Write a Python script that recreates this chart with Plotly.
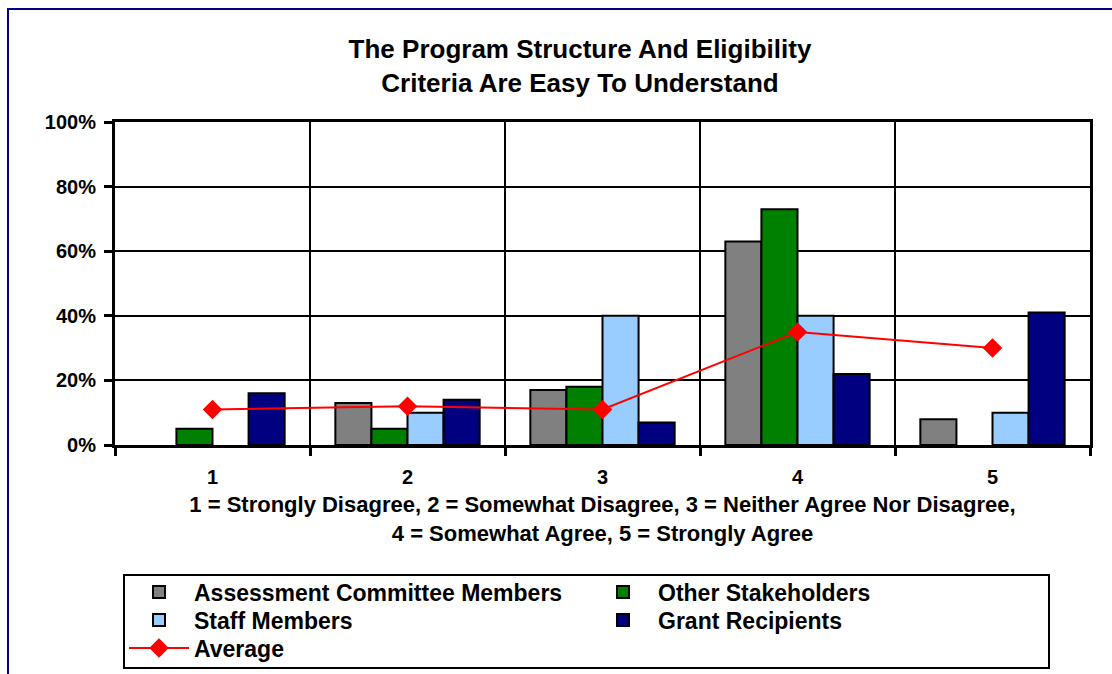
import plotly.graph_objects as go

# Likert scale responses (1-5) and share of respondents per group, in percent
scale_points = [1, 2, 3, 4, 5]
tick_labels = ["1", "2", "3", "4", "5"]
y_ticks = [0, 20, 40, 60, 80, 100]
assessment_committee = [0, 13, 17, 63, 8]
other_stakeholders = [5, 5, 18, 73, 0]
staff_members = [0, 10, 40, 40, 10]
grant_recipients = [16, 14, 7, 22, 41]
average = [11, 12, 11, 35, 30]

FONT = "Liberation Sans, Arial, sans-serif"
W, H = 1112, 674
M_L, M_R, M_T, M_B = 115, 22, 122, 229
PW, PH = W - M_L - M_R, H - M_T - M_B


def px_x(x):
    return (x - M_L) / PW


def px_y(y):
    return (H - M_B - y) / PH


def bold_font(size):
    return dict(family=FONT, size=size, color="black", weight="bold")


fig = go.Figure()

# (name, values, fill colour, legend row)
bar_series = [
    ("Assessment Committee Members", assessment_committee, "#808080", "legend"),
    ("Other Stakeholders", other_stakeholders, "#008000", "legend"),
    ("Staff Members", staff_members, "#99CCFF", "legend2"),
    ("Grant Recipients", grant_recipients, "#000080", "legend2"),
]
for name, vals, color, leg in bar_series:
    fig.add_trace(go.Bar(
        x=scale_points,
        # empty answer groups get no bar at all
        y=[v if v else None for v in vals],
        name=name, legend=leg,
        marker=dict(color=color, line=dict(color="black", width=2)),
    ))

fig.add_trace(go.Scatter(
    x=scale_points, y=average, name="Average", mode="lines+markers",
    legend="legend3",
    line=dict(color="#FF0000", width=2),
    marker=dict(symbol="diamond", size=15, color="#FF0000"),
))

# one horizontal legend per row so the rows and columns line up in the frame
legend_common = dict(
    orientation="h", yanchor="middle", xanchor="left", x=px_x(124),
    font=bold_font(23),
    bgcolor="rgba(0,0,0,0)", borderwidth=0, itemwidth=60,
    entrywidth=389, entrywidthmode="pixels",
    tracegroupgap=0, traceorder="normal",
)

fig.update_layout(
    width=W, height=H,
    margin=dict(l=M_L, r=M_R, t=M_T, b=M_B, autoexpand=False),
    paper_bgcolor="white", plot_bgcolor="white",
    barmode="group", bargap=0.26, bargroupgap=0,
    font=dict(family=FONT, size=20, color="black"),
    title=dict(
        text="The Program Structure And Eligibility<br>Criteria Are Easy To Understand",
        font=bold_font(26),
        x=580 / W, xanchor="center", y=1 - 58 / H, yanchor="middle",
    ),
    xaxis=dict(
        range=[0.5, 5.5], tickvals=scale_points, ticktext=tick_labels,
        ticks="", showgrid=False, zeroline=False,
        showline=True, linecolor="black", linewidth=3, mirror=True,
        ticklabelstandoff=12,
        tickfont=bold_font(20),
        minor=dict(tickvals=[0.5, 1.5, 2.5, 3.5, 4.5, 5.5], ticks="outside", ticklen=8,
                   tickwidth=3, tickcolor="black", showgrid=True,
                   gridcolor="black", gridwidth=2),
        title=dict(
            text="1 = Strongly Disagree, 2 = Somewhat Disagree, 3 = Neither Agree Nor Disagree,"
                 "<br>4 = Somewhat Agree, 5 = Strongly Agree",
            font=bold_font(22), standoff=10,
        ),
    ),
    yaxis=dict(
        range=[0, 100], tickvals=y_ticks, ticktext=[f"{v}%" for v in y_ticks],
        showgrid=True, gridcolor="black", gridwidth=2,
        zeroline=False, showline=True, linecolor="black", linewidth=3, mirror=True,
        ticks="outside", ticklen=8, tickwidth=3, tickcolor="black",
        ticklabelstandoff=4,
        tickfont=bold_font(20),
    ),
    legend=dict(y=px_y(592), **legend_common),
    legend2=dict(y=px_y(620), **legend_common),
    legend3=dict(y=px_y(648), **legend_common),
    showlegend=True,
)

# Frame around the legend entries and outer chart border
fig.add_shape(type="rect", xref="paper", yref="paper",
              x0=px_x(124), x1=px_x(1049), y0=px_y(668), y1=px_y(575),
              line=dict(color="black", width=2), fillcolor="rgba(0,0,0,0)", layer="above")
fig.add_shape(type="rect", xref="paper", yref="paper",
              x0=px_x(8), x1=px_x(1130), y0=px_y(700), y1=px_y(9),
              line=dict(color="#000080", width=2), fillcolor="rgba(0,0,0,0)", layer="above")

fig.write_html("out.html")
